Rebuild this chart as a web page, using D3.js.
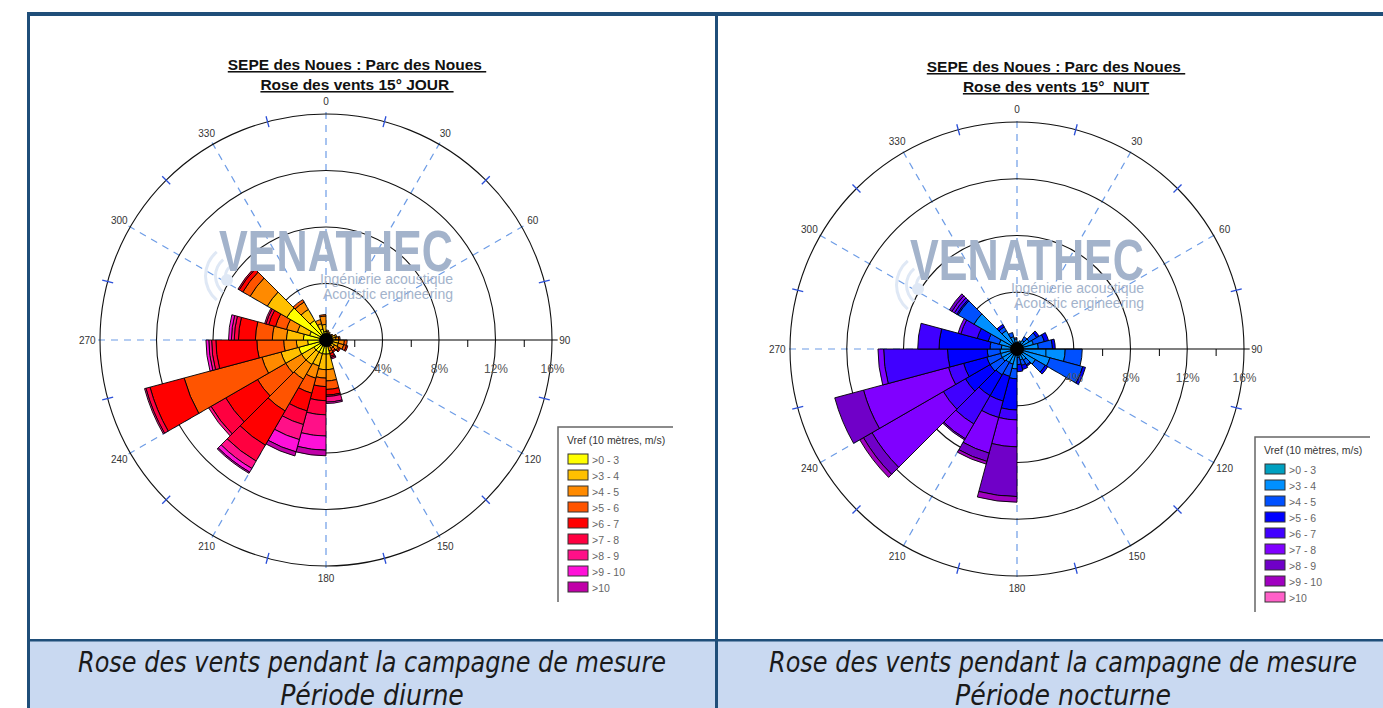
<!DOCTYPE html>
<html>
<head>
<meta charset="utf-8">
<style>
  body { margin: 0; background: #fff; }
  svg { display: block; }
</style>
</head>
<body>
<svg class="page" width="1383" height="708"></svg>
<script src="https://cdn.jsdelivr.net/npm/d3@7/dist/d3.min.js"></script>
<script>

// wind speed classes (Vref at 10 m, m/s)
const speedClasses = ['>0 - 3', '>3 - 4', '>4 - 5', '>5 - 6', '>6 - 7', '>7 - 8', '>8 - 9', '>9 - 10', '>10']

// 15 degree sectors, start angle of each
const directions = [0, 15, 30, 45, 60, 75, 90, 105, 120, 135, 150, 165,
                    180, 195, 210, 225, 240, 255, 270, 285, 300, 315, 330, 345]

// frequency (%) per sector and speed class - day
const dayRose = [
  [0.4, 0.2, 0.1, 0, 0, 0, 0, 0, 0],
  [0.3, 0.2, 0.1, 0, 0, 0, 0, 0, 0],
  [0.3, 0.1, 0.1, 0, 0, 0, 0, 0, 0],
  [0.3, 0.2, 0.1, 0, 0, 0, 0, 0, 0],
  [0.4, 0.3, 0.1, 0, 0, 0, 0, 0, 0],
  [0.4, 0.3, 0.2, 0.1, 0, 0, 0, 0, 0],
  [0.5, 0.4, 0.4, 0.2, 0, 0, 0, 0, 0],
  [0.5, 0.4, 0.4, 0.2, 0.1, 0, 0, 0, 0],
  [0.4, 0.3, 0.3, 0.1, 0.1, 0, 0, 0, 0],
  [0.3, 0.2, 0.2, 0.2, 0.1, 0, 0, 0, 0],
  [0.3, 0.2, 0.3, 0.2, 0.2, 0.1, 0.1, 0, 0],
  [1.0, 1.1, 0.8, 0.6, 0.4, 0.1, 0.4, 0.1, 0],
  [1.0, 1.1, 0.6, 0.6, 1.0, 1.0, 1.5, 1.0, 0.4],
  [1.0, 0.9, 0.9, 1.1, 1.3, 1.0, 1.1, 0.9, 0.3],
  [1.0, 1.0, 1.2, 2.6, 2.8, 1.3, 0.6, 0.3, 0.1],
  [1.0, 1.0, 1.3, 2.3, 2.6, 1.2, 0.2, 0, 0],
  [2.0, 1.3, 1.4, 5.7, 2.5, 0.3, 0.1, 0, 0],
  [1.3, 0.8, 0.9, 1.9, 2.9, 0.3, 0.2, 0.2, 0],
  [1.6, 1.2, 1.0, 1.2, 1.2, 0.3, 0.2, 0.2, 0],
  [1.2, 0.9, 0.8, 0.8, 0.5, 0.2, 0.1, 0, 0],
  [3.2, 1.6, 1.4, 0.6, 0.3, 0.1, 0, 0, 0],
  [1.6, 0.9, 0.6, 0.2, 0, 0, 0, 0, 0],
  [0.8, 0.4, 0.3, 0, 0, 0, 0, 0, 0],
  [0.6, 0.5, 0.6, 0.1, 0, 0, 0, 0, 0]
]

// frequency (%) per sector and speed class - night
const nightRose = [
  [0.3, 0.2, 0, 0, 0, 0, 0, 0, 0],
  [0.3, 0.3, 0, 0, 0, 0, 0, 0, 0],
  [0.3, 0.4, 0.3, 0, 0, 0, 0, 0, 0],
  [0.3, 0.7, 0.6, 0.2, 0, 0, 0, 0, 0],
  [0.3, 0.9, 0.8, 0.3, 0, 0, 0, 0, 0],
  [0.3, 1.2, 1.0, 0.2, 0, 0, 0, 0, 0],
  [0.3, 3.1, 1.2, 0, 0, 0, 0, 0, 0],
  [0.3, 2.1, 2.4, 0.2, 0, 0, 0, 0, 0],
  [0.3, 1.2, 0.8, 0.2, 0, 0, 0, 0, 0],
  [0.3, 0.6, 0.4, 0.1, 0, 0, 0, 0, 0],
  [0.3, 0.5, 0.4, 0.3, 0, 0, 0, 0, 0],
  [0.2, 0.4, 0.5, 0.5, 0, 0, 0, 0, 0],
  [0.3, 1.1, 0.7, 2.2, 0.7, 1.9, 3.5, 0.4, 0],
  [0.3, 0.8, 0.9, 1.8, 1.2, 2.6, 0.6, 0.2, 0],
  [0.3, 0.8, 1.0, 1.7, 2.3, 1.2, 0.1, 0, 0],
  [0.3, 0.9, 1.0, 2.0, 1.8, 5.8, 0.7, 0.3, 0],
  [0.3, 0.9, 1.0, 1.7, 1.1, 6.2, 2.1, 0, 0],
  [0.3, 0.9, 0.9, 2.8, 4.5, 0.4, 0, 0, 0],
  [0.3, 0.8, 0.8, 3.6, 1.5, 0, 0, 0, 0],
  [0.3, 1.0, 0.8, 0.8, 1.2, 0.2, 0, 0, 0],
  [0.3, 3.2, 1.3, 0.1, 0.2, 0.2, 0.2, 0, 0],
  [0.3, 1.2, 0.3, 0.2, 0, 0, 0, 0, 0],
  [0.3, 0.6, 0.3, 0, 0, 0, 0, 0, 0],
  [0.3, 0.4, 0.1, 0, 0, 0, 0, 0, 0]
]

const dayColors = ['#ffff00', '#ffc000', '#ff8a00', '#ff5400', '#ff0000', '#ff0040', '#ff1088', '#ff10d8', '#c000a8']
const nightColors = ['#00a0c0', '#0090ff', '#0050ff', '#0000ff', '#4000ff', '#8000ff', '#7000c8', '#a000c0', '#ff60c8']

const ringTicks = [4, 8, 12, 16]
const minorTicks = [2, 6, 10, 14]
const angleLabels = [0, 30, 60, 90, 120, 150, 180, 210, 240, 270, 300, 330]
const edgeTicks = [15, 45, 75, 105, 135, 165, 195, 225, 255, 285, 315, 345]

const svg = d3.select('.page')
const rad = d => d * Math.PI / 180
const sans = '"Liberation Sans", Arial, sans-serif'

// page frame
const frame = '#1f4e79'
svg.append('rect').attr('x', 28).attr('y', 641).attr('width', 1355).attr('height', 67).attr('fill', '#c9d9f1')
svg.append('rect').attr('x', 27).attr('y', 12).attr('width', 1356).attr('height', 4).attr('fill', frame)
svg.append('rect').attr('x', 27).attr('y', 12).attr('width', 3).attr('height', 696).attr('fill', frame)
svg.append('rect').attr('x', 715).attr('y', 12).attr('width', 3).attr('height', 696).attr('fill', frame)
svg.append('rect').attr('x', 27).attr('y', 639).attr('width', 1356).attr('height', 2.5).attr('fill', frame)

const captions = [
  { x: 372, sub: 'Période diurne' },
  { x: 1063, sub: 'Période nocturne' }
]
captions.forEach(c => {
  const t = svg.append('text')
    .attr('text-anchor', 'middle')
    .attr('font-family', '"Liberation Sans Narrow", "DejaVu Sans Condensed", sans-serif')
    .attr('font-style', 'italic')
    .attr('font-size', 28)
    .attr('fill', '#1a1a1a')
  t.append('tspan').attr('x', c.x).attr('y', 672)
    .attr('textLength', 588).attr('lengthAdjust', 'spacingAndGlyphs')
    .text('Rose des vents pendant la campagne de mesure')
  t.append('tspan').attr('x', c.x).attr('y', 705).text(c.sub)
})

function drawRose(cfg) {
  const g = svg.append('g').attr('transform', `translate(${cfg.cx},${cfg.cy})`)
  const r = d3.scaleLinear().domain([0, 16]).range([0, cfg.radius])

  // watermark
  const wm = svg.append('g').attr('transform', `translate(${cfg.wx},${cfg.wy})`)
  ;[10, 20, 30].forEach(rr => {
    wm.append('path')
      .attr('d', d3.arc()({ innerRadius: rr, outerRadius: rr + 3, startAngle: rad(-140), endAngle: rad(-40) }))
      .attr('transform', 'translate(22,48)')
      .attr('fill', '#dfe8f5')
  })
  wm.append('circle').attr('cx', 12).attr('cy', 52).attr('r', 6).attr('fill', '#dfe8f5')
  wm.append('text').attr('x', 4).attr('y', 43)
    .attr('font-family', sans).attr('font-weight', 'bold')
    .attr('font-size', 58).attr('textLength', 234).attr('lengthAdjust', 'spacingAndGlyphs')
    .attr('fill', '#a3b3cb').text('VENATHEC')
  wm.append('text').attr('x', 238).attr('y', 56).attr('text-anchor', 'end')
    .attr('font-family', sans).attr('font-size', 14)
    .attr('fill', '#a3b3cb').text('Ingénierie acoustique')
  wm.append('text').attr('x', 238).attr('y', 71).attr('text-anchor', 'end')
    .attr('font-family', sans).attr('font-size', 14)
    .attr('fill', '#a3b3cb').text('Acoustic engineering')

  // dashed spokes
  g.selectAll('.spoke').data(angleLabels.filter(a => a !== 90)).enter()
    .append('line')
    .attr('x1', 0).attr('y1', 0)
    .attr('x2', d => r(16.4) * Math.sin(rad(d)))
    .attr('y2', d => -r(16.4) * Math.cos(rad(d)))
    .attr('stroke', '#6d9ce6').attr('stroke-width', 1.2).attr('stroke-dasharray', '7,6')

  // rings
  g.selectAll('.ring').data(ringTicks).enter()
    .append('circle').attr('r', d => r(d))
    .attr('fill', 'none').attr('stroke', '#111').attr('stroke-width', 1.1)

  // blue ticks on outer ring
  g.selectAll('.edge').data(edgeTicks).enter()
    .append('line')
    .attr('x1', d => r(15.6) * Math.sin(rad(d))).attr('y1', d => -r(15.6) * Math.cos(rad(d)))
    .attr('x2', d => r(16.4) * Math.sin(rad(d))).attr('y2', d => -r(16.4) * Math.cos(rad(d)))
    .attr('stroke', '#2a4fd8').attr('stroke-width', 1.3)

  // angle labels
  g.selectAll('.alab').data(angleLabels).enter()
    .append('text')
    .attr('x', d => r(16.9) * Math.sin(rad(d)))
    .attr('y', d => -r(16.9) * Math.cos(rad(d)))
    .attr('text-anchor', 'middle').attr('dominant-baseline', 'central')
    .attr('font-family', sans).attr('font-size', 10)
    .attr('fill', '#333').text(d => d)

  // stacked sectors
  const segs = []
  cfg.data.forEach((vals, i) => {
    let acc = 0
    vals.forEach((v, j) => {
      if (v > 0) segs.push({ dir: directions[i], cls: j, y0: acc, y1: acc + v })
      acc += v
    })
  })
  const arc = d3.arc()
    .innerRadius(d => r(d.y0)).outerRadius(d => r(d.y1))
    .startAngle(d => rad(d.dir)).endAngle(d => rad(d.dir + 15))
  g.selectAll('.seg').data(segs).enter()
    .append('path').attr('d', arc)
    .attr('fill', d => cfg.colors[d.cls])
    .attr('stroke', '#000').attr('stroke-width', 0.9)
  g.append('circle').attr('r', 7).attr('fill', '#000')

  // radial axis toward 90
  const ax = g.append('g')
  ax.append('line').attr('x1', 0).attr('x2', r(16.4)).attr('stroke', '#000').attr('stroke-width', 1.1)
  ax.call(d3.axisBottom(r).tickValues(minorTicks).tickSize(7).tickFormat(''))
  ax.call(g2 => g2.select('.domain').remove())
  g.append('g').call(d3.axisBottom(r).tickValues(ringTicks).tickSize(0).tickPadding(24).tickFormat(d => d + '%'))
    .call(g2 => g2.select('.domain').remove())
    .selectAll('text').attr('font-size', 12).attr('fill', '#555')
    .attr('font-family', sans)

  // title
  const title = svg.append('text')
    .attr('text-anchor', 'middle')
    .attr('font-family', sans)
    .attr('font-weight', 'bold').attr('font-size', 15.5)
    .attr('text-decoration', 'underline').attr('fill', '#111')
    .style('white-space', 'pre')
  title.append('tspan').attr('x', cfg.tx).attr('y', cfg.ty).text('SEPE des Noues : Parc des Noues ')
  title.append('tspan').attr('x', cfg.tx).attr('y', cfg.ty + 20).text(cfg.subtitle)

  // legend
  const lg = svg.append('g').attr('transform', `translate(${cfg.lx},${cfg.ly})`)
  lg.append('path').attr('d', 'M0,175V0H115').attr('fill', 'none').attr('stroke', '#666').attr('stroke-width', 1.5)
  lg.append('text').attr('x', 9).attr('y', 17)
    .attr('font-family', sans).attr('font-size', 10.5)
    .attr('fill', '#333').text('Vref (10 mètres, m/s)')
  const rows = lg.selectAll('.row').data(speedClasses).enter()
    .append('g').attr('transform', (d, i) => `translate(10,${27 + i * 16})`)
  rows.append('rect').attr('width', 20).attr('height', 10)
    .attr('fill', (d, i) => cfg.colors[i]).attr('stroke', '#333').attr('stroke-width', 1)
  rows.append('text').attr('x', 24).attr('y', 9.5)
    .attr('font-family', sans).attr('font-size', 10.5)
    .attr('fill', '#666').text(d => d)
}

drawRose({ cx: 326, cy: 340, radius: 226, data: dayRose, colors: dayColors,
  tx: 357, ty: 70, subtitle: 'Rose des vents 15° JOUR ', lx: 558, ly: 427, wx: 215, wy: 228 })
drawRose({ cx: 1017, cy: 349, radius: 227, data: nightRose, colors: nightColors,
  tx: 1056, ty: 72, subtitle: 'Rose des vents 15°  NUIT', lx: 1255, ly: 437, wx: 906, wy: 237 })

</script>
</body>
</html>
